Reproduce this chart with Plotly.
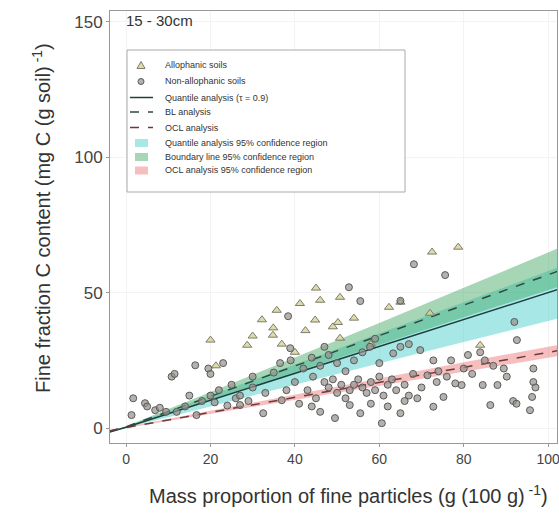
import plotly.graph_objects as go

# ---- data ----
allo_x = [78.7, 72.5, 45.0, 50.7, 41.2, 46.0, 35.7, 32.2, 62.3, 65.0, 34.8, 28.7, 20.0,
          50.2, 54.0, 44.8, 49.0, 34.9, 30.0, 21.3, 72.0, 83.9, 50.7, 36.9, 58.0, 40.0, 42.5]
allo_y = [66.8, 65.0, 51.7, 48.3, 46.0, 47.2, 43.5, 40.0, 44.6, 46.5, 34.3, 30.6, 32.5,
          39.0, 40.6, 39.9, 37.4, 37.0, 34.0, 23.0, 42.4, 30.6, 33.2, 31.0, 31.0, 28.0, 36.0]

non_x = [1.7, 4.5, 6.9, 1.3, 8.0, 9.5, 10.8, 11.5, 16.4, 19.5, 16.7, 14.0, 18.0, 21.0, 5.0,
         12.0, 24.0, 27.0, 26.0, 29.0, 32.5, 36.9, 25.0, 22.0, 30.0, 35.0, 36.5, 39.0, 42.0,
         44.3, 46.0, 48.0, 50.0, 52.0, 54.0, 57.8, 59.0, 63.3, 65.0, 67.0, 69.7, 72.8, 71.4,
         73.6, 75.2, 72.8, 79.5, 78.0, 84.5, 88.0, 86.3, 90.2, 89.5, 91.7, 92.0, 92.6, 96.5,
         96.5, 96.2, 95.7, 83.9, 65.0, 60.6, 55.5, 49.5, 53.0, 52.0, 50.0, 48.0, 47.0, 49.0,
         51.0, 53.0, 54.0, 55.0, 56.0, 57.0, 58.0, 59.0, 60.0, 61.0, 62.0, 63.0, 64.0, 66.0,
         67.0, 68.0, 70.0, 74.0, 76.0, 80.0, 82.0, 85.0, 87.0, 45.0, 43.0, 41.0, 38.0, 40.0,
         44.0, 46.0, 58.0, 62.0, 66.0, 69.0, 77.0, 81.0, 44.0, 47.0, 56.0, 60.0, 33.0, 30.0,
         27.0, 20.0, 15.0, 68.2, 75.6, 52.8, 55.5, 38.4, 38.9, 65.0, 20.0, 23.0, 92.5, 97.0]
non_y = [11.0, 9.2, 6.6, 4.8, 7.5, 6.0, 19.0, 20.0, 23.2, 22.0, 4.8, 8.0, 10.0, 9.5, 8.0,
         6.0, 8.3, 8.5, 11.0, 10.0, 5.5, 10.3, 16.0, 14.0, 19.0, 20.5, 24.0, 25.0, 22.0,
         19.0, 23.0, 27.0, 24.0, 21.0, 25.0, 30.0, 33.0, 27.6, 30.0, 31.0, 28.8, 25.0, 19.5,
         17.0, 11.5, 7.9, 15.9, 16.5, 15.9, 15.9, 8.5, 19.0, 22.0, 10.0, 39.2, 32.5, 22.0,
         17.0, 11.5, 6.6, 28.0, 5.5, 1.8, 5.5, 3.7, 8.5, 11.0, 13.0, 15.0, 17.0, 18.0,
         16.0, 14.0, 16.0, 18.0, 15.0, 13.0, 17.0, 14.0, 19.0, 12.0, 16.0, 18.0, 14.0, 16.0,
         12.0, 20.0, 15.0, 21.0, 19.0, 22.0, 20.0, 25.0, 23.0, 11.0, 14.0, 9.0, 14.0, 17.0,
         8.0, 6.0, 9.0, 8.0, 10.0, 11.0, 25.0, 27.0, 26.0, 30.0, 28.0, 24.0, 13.0, 15.0,
         12.0, 12.0, 12.0, 60.5, 56.5, 52.0, 46.9, 41.3, 29.5, 47.0, 20.0, 24.0, 9.0, 15.0]

fit_x = [-4, 0, 20, 40, 60, 80, 100, 103]
quant_y = [-1.5, 0.3, 10.3, 20.2, 30.1, 40.0, 50.0, 51.5]
quant_lo = [-1.5, 0.0, 8.0, 16.0, 24.0, 31.8, 39.5, 40.7]
quant_hi = [-1.5, 0.6, 12.0, 23.5, 35.0, 46.5, 58.0, 59.7]
bl_y = [-1.3, 0.5, 11.7, 23.0, 34.2, 45.4, 56.6, 58.3]
bl_lo = [-1.3, 0.3, 10.4, 20.6, 30.8, 41.0, 51.0, 52.5]
bl_hi = [-1.3, 0.7, 13.3, 26.0, 38.8, 51.8, 64.8, 66.8]
ocl_y = [-1.0, 0.2, 5.8, 11.4, 17.0, 22.5, 28.0, 28.8]
ocl_lo = [-1.0, 0.0, 5.2, 10.4, 15.6, 20.8, 26.0, 26.7]
ocl_hi = [-1.0, 0.4, 6.4, 12.4, 18.4, 24.3, 30.0, 30.9]

x_ticks = [0, 20, 40, 60, 80, 100]
y_ticks = [0, 50, 100, 150]

legend_labels = ["Allophanic soils", "Non-allophanic soils", "Quantile analysis (τ = 0.9)",
                 "BL analysis", "OCL analysis", "Quantile analysis 95% confidence region",
                 "Boundary line 95% confidence region", "OCL analysis 95% confidence region"]

# ---- styles ----
C_TRI = "rgba(214,208,140,0.75)"
C_TRI_LINE = "#7b7b6e"
C_CIR = "rgba(150,146,140,0.7)"
C_CIR_LINE = "#5a5a5a"
C_QB = "rgba(60,205,200,0.45)"
C_BB = "rgba(60,165,95,0.45)"
C_OB = "rgba(235,110,110,0.45)"
C_QL = "#1f3f3f"
C_BL = "#2f4a40"
C_OL = "#6a3a3a"

fig = go.Figure()

def band(lo, hi, color, name):
    fig.add_trace(go.Scatter(
        x=fit_x + fit_x[::-1], y=hi + lo[::-1], fill="toself", fillcolor=color,
        line=dict(width=0), mode="lines", name=name, hoverinfo="skip", showlegend=False))

band(quant_lo, quant_hi, C_QB, legend_labels[5])
band(bl_lo, bl_hi, C_BB, legend_labels[6])
band(ocl_lo, ocl_hi, C_OB, legend_labels[7])

fig.add_trace(go.Scatter(x=fit_x, y=quant_y, mode="lines", name=legend_labels[2],
                         line=dict(color=C_QL, width=1.5), showlegend=False))
fig.add_trace(go.Scatter(x=fit_x, y=bl_y, mode="lines", name=legend_labels[3],
                         line=dict(color=C_BL, width=1.5, dash="dash"), showlegend=False))
fig.add_trace(go.Scatter(x=fit_x, y=ocl_y, mode="lines", name=legend_labels[4],
                         line=dict(color=C_OL, width=1.5, dash="dash"), showlegend=False))

fig.add_trace(go.Scatter(x=allo_x, y=allo_y, mode="markers", name=legend_labels[0],
                         showlegend=False,
                         marker=dict(symbol="triangle-up", size=8, color=C_TRI,
                                     line=dict(color=C_TRI_LINE, width=1))))
fig.add_trace(go.Scatter(x=non_x, y=non_y, mode="markers", name=legend_labels[1],
                         showlegend=False,
                         marker=dict(symbol="circle", size=7, color=C_CIR,
                                     line=dict(color=C_CIR_LINE, width=1))))

# ---- helpers: page pixel -> paper fraction (plot area 110..557 x 11..443) ----
def xp(X):
    return (X - 110) / 447.0

def yp(Y):
    return (443 - Y) / 432.0

shapes = []
annotations = []

# legend box
shapes.append(dict(type="rect", xref="paper", yref="paper", x0=xp(127), x1=xp(405),
                   y0=yp(192), y1=yp(50), line=dict(color="#aaaaaa", width=1),
                   fillcolor="white", layer="above"))
rows = [65, 81.5, 97.5, 112, 127.5, 143, 157, 170.5]
# triangle
cy = rows[0]
shapes.append(dict(type="path", xref="paper", yref="paper",
                   path="M {:.4f} {:.4f} L {:.4f} {:.4f} L {:.4f} {:.4f} Z".format(
                       xp(137), yp(cy + 3.5), xp(145), yp(cy + 3.5), xp(141), yp(cy - 3.5)),
                   fillcolor=C_TRI, line=dict(color=C_TRI_LINE, width=1)))
# circle
cy = rows[1]
shapes.append(dict(type="circle", xref="paper", yref="paper", x0=xp(138), x1=xp(144),
                   y0=yp(cy + 3), y1=yp(cy - 3), fillcolor=C_CIR,
                   line=dict(color=C_CIR_LINE, width=1)))
# lines
for r, col, dash in [(rows[2], C_QL, "solid"), (rows[3], C_BL, "dash"), (rows[4], C_OL, "dash")]:
    shapes.append(dict(type="line", xref="paper", yref="paper", x0=xp(130), x1=xp(153),
                       y0=yp(r), y1=yp(r), line=dict(color=col, width=1.5, dash=dash)))
# band swatches
for r, col in [(rows[5], C_QB), (rows[6], C_BB), (rows[7], C_OB)]:
    shapes.append(dict(type="rect", xref="paper", yref="paper", x0=xp(135), x1=xp(148),
                       y0=yp(r + 4), y1=yp(r - 4), fillcolor=col, line=dict(width=0)))
for r, lab in zip(rows, legend_labels):
    annotations.append(dict(text=lab, x=xp(163), y=yp(r), xref="paper", yref="paper",
                            xanchor="left", yanchor="middle", showarrow=False,
                            font=dict(size=9, color="#333")))

annotations.append(dict(text="15 - 30cm", x=xp(124), y=yp(21), xref="paper", yref="paper",
                        xanchor="left", yanchor="middle", showarrow=False,
                        font=dict(size=15, color="#333")))
annotations.append(dict(text="Mass proportion of fine particles (g (100 g)<sup> -1</sup>)",
                        x=xp(348), y=yp(494), xref="paper", yref="paper",
                        xanchor="center", yanchor="middle", showarrow=False,
                        font=dict(size=20, color="#333")))
annotations.append(dict(text="Fine fraction C content (mg C (g soil)<sup> -1</sup>)",
                        x=xp(42), y=yp(218), xref="paper", yref="paper", textangle=-90,
                        xanchor="center", yanchor="middle", showarrow=False,
                        font=dict(size=20, color="#333")))

fig.update_layout(
    width=559, height=515,
    margin=dict(l=110, r=2, t=11, b=72, autoexpand=False),
    paper_bgcolor="white", plot_bgcolor="white",
    font=dict(family="Liberation Sans, Arial, sans-serif", color="#333"),
    showlegend=False,
    shapes=shapes,
    annotations=annotations,
)
fig.update_xaxes(range=[-3.8, 102.1], tickvals=x_ticks,
                 showline=True, linecolor="#999", mirror=True, ticks="outside",
                 ticklen=3, tickcolor="#999", showgrid=True, gridcolor="#f3f3f3",
                 zeroline=False, tickfont=dict(size=14, color="#444"),
                 ticklabeloverflow="allow")
fig.update_yaxes(range=[-5.5, 154], tickvals=y_ticks,
                 showline=True, linecolor="#999", mirror=True, ticks="outside",
                 ticklen=3, tickcolor="#999", showgrid=True, gridcolor="#f3f3f3",
                 zeroline=False, tickfont=dict(size=17, color="#444"),
                 ticklabeloverflow="allow")

# remove the default 8px page margin so the figure fills the window exactly
fig.write_html("out.html", config={"displayModeBar": False},
               post_script="document.body.style.margin='0';document.body.style.overflow='hidden';")
